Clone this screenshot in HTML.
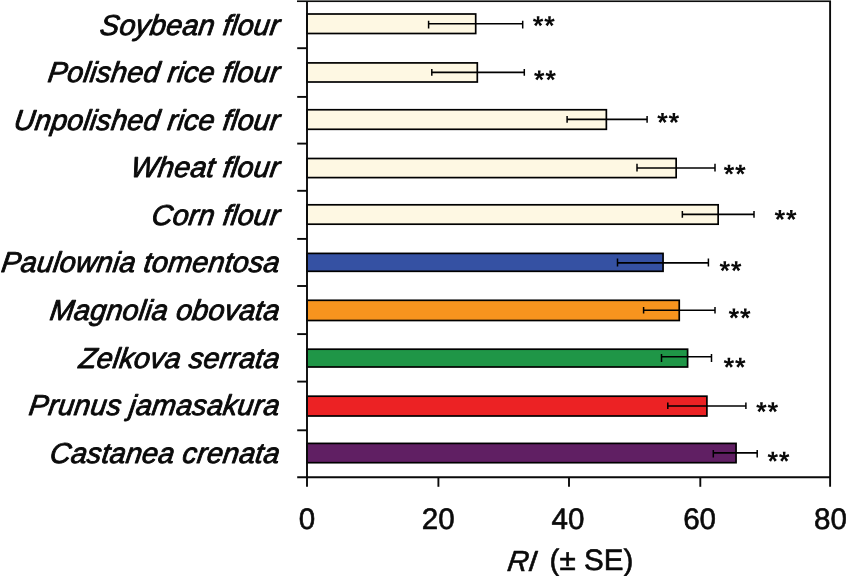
<!DOCTYPE html>
<html><head><meta charset="utf-8"><title>chart</title>
<style>
html,body{margin:0;padding:0;background:#fff;}
body{width:846px;height:576px;overflow:hidden;}
svg{display:block;will-change:transform;}
text{font-family:"Liberation Sans",sans-serif;fill:#0a0a0a;stroke:#0a0a0a;stroke-width:0.6px;stroke-linejoin:round;text-rendering:geometricPrecision;}
.lab{font-style:italic;font-size:28.8px;text-anchor:end;stroke-width:0.9px;letter-spacing:0.15px;}
.tk{font-size:29.6px;text-anchor:middle;}
.ast{font-weight:bold;font-size:28.5px;stroke:none;}
</style></head>
<body>
<svg width="846" height="576" viewBox="0 0 846 576">
<rect x="0" y="0" width="846" height="576" fill="#ffffff"/>
<rect x="307.00" y="14.00" width="168.70" height="19.50" fill="#FEF8E3" stroke="#000" stroke-width="1.7"/>
<rect x="307.00" y="62.90" width="170.30" height="19.10" fill="#FEF8E3" stroke="#000" stroke-width="1.7"/>
<rect x="307.00" y="109.75" width="299.35" height="19.55" fill="#FEF8E3" stroke="#000" stroke-width="1.7"/>
<rect x="307.00" y="158.50" width="369.15" height="19.10" fill="#FEF8E3" stroke="#000" stroke-width="1.7"/>
<rect x="307.00" y="204.80" width="411.15" height="19.40" fill="#FEF8E3" stroke="#000" stroke-width="1.7"/>
<rect x="307.00" y="253.40" width="356.05" height="17.90" fill="#3551A3" stroke="#000" stroke-width="1.7"/>
<rect x="307.00" y="300.30" width="372.25" height="20.20" fill="#F7941E" stroke="#000" stroke-width="1.7"/>
<rect x="307.00" y="349.20" width="380.60" height="17.80" fill="#1F9647" stroke="#000" stroke-width="1.7"/>
<rect x="307.00" y="396.20" width="399.90" height="19.80" fill="#EC2224" stroke="#000" stroke-width="1.7"/>
<rect x="307.00" y="443.40" width="429.05" height="19.30" fill="#601F63" stroke="#000" stroke-width="1.7"/>
<path d="M428.60 23.70H522.70" fill="none" stroke="#000" stroke-width="1.6"/><path d="M428.60 20.70V28.60M522.70 20.70V28.60" fill="none" stroke="#000" stroke-width="1.5"/>
<path d="M431.80 72.40H524.30" fill="none" stroke="#000" stroke-width="1.6"/><path d="M431.80 69.05V75.80M524.30 69.05V75.80" fill="none" stroke="#000" stroke-width="1.5"/>
<path d="M567.10 119.40H647.10" fill="none" stroke="#000" stroke-width="1.6"/><path d="M567.10 116.05V122.80M647.10 116.05V122.80" fill="none" stroke="#000" stroke-width="1.5"/>
<path d="M637.00 168.00H715.00" fill="none" stroke="#000" stroke-width="1.6"/><path d="M637.00 163.80V171.50M715.00 163.80V171.50" fill="none" stroke="#000" stroke-width="1.5"/>
<path d="M682.35 214.40H754.00" fill="none" stroke="#000" stroke-width="1.6"/><path d="M682.35 211.05V217.80M754.00 211.05V217.80" fill="none" stroke="#000" stroke-width="1.5"/>
<path d="M617.50 262.90H708.40" fill="none" stroke="#000" stroke-width="1.6"/><path d="M617.50 258.40V266.50M708.40 258.40V266.50" fill="none" stroke="#000" stroke-width="1.5"/>
<path d="M643.60 310.30H715.00" fill="none" stroke="#000" stroke-width="1.6"/><path d="M643.60 307.05V313.55M715.00 307.05V313.55" fill="none" stroke="#000" stroke-width="1.5"/>
<path d="M661.50 356.70H711.50" fill="none" stroke="#000" stroke-width="1.6"/><path d="M661.50 354.05V361.90M711.50 354.05V361.90" fill="none" stroke="#000" stroke-width="1.5"/>
<path d="M667.80 406.00H745.90" fill="none" stroke="#000" stroke-width="1.6"/><path d="M667.80 402.40V408.90M745.90 402.40V408.90" fill="none" stroke="#000" stroke-width="1.5"/>
<path d="M713.30 452.90H757.20" fill="none" stroke="#000" stroke-width="1.6"/><path d="M713.30 449.95V457.50M757.20 449.95V457.50" fill="none" stroke="#000" stroke-width="1.5"/>
<g shape-rendering="crispEdges"><rect x="297" y="0" width="534" height="1" fill="#707170"/><rect x="297" y="1" width="534" height="1" fill="#0c0c0c"/><rect x="297" y="2" width="534" height="1" fill="#eeeeee"/></g>
<path d="M830.10 1.00V486.80" fill="none" stroke="#0a0a0a" stroke-width="1.9"/>
<path d="M307.00 1.18V486.80" fill="none" stroke="#0a0a0a" stroke-width="1.9"/>
<path d="M297.20 477.30H830.10" fill="none" stroke="#0a0a0a" stroke-width="1.9"/>
<path d="M297.20 48.20H307.00" fill="none" stroke="#0a0a0a" stroke-width="1.9"/>
<path d="M297.20 96.90H307.00" fill="none" stroke="#0a0a0a" stroke-width="1.9"/>
<path d="M297.20 143.60H307.00" fill="none" stroke="#0a0a0a" stroke-width="1.9"/>
<path d="M297.20 190.80H307.00" fill="none" stroke="#0a0a0a" stroke-width="1.9"/>
<path d="M297.20 238.90H307.00" fill="none" stroke="#0a0a0a" stroke-width="1.9"/>
<path d="M297.20 286.00H307.00" fill="none" stroke="#0a0a0a" stroke-width="1.9"/>
<path d="M297.20 334.10H307.00" fill="none" stroke="#0a0a0a" stroke-width="1.9"/>
<path d="M297.20 381.60H307.00" fill="none" stroke="#0a0a0a" stroke-width="1.9"/>
<path d="M297.20 430.30H307.00" fill="none" stroke="#0a0a0a" stroke-width="1.9"/>
<path d="M438.40 477.30V486.80" fill="none" stroke="#0a0a0a" stroke-width="1.9"/>
<path d="M569.00 477.30V486.80" fill="none" stroke="#0a0a0a" stroke-width="1.9"/>
<path d="M700.30 477.30V486.80" fill="none" stroke="#0a0a0a" stroke-width="1.9"/>
<text class="tk" x="307.00" y="529.3">0</text>
<text class="tk" x="438.20" y="529.3">20</text>
<text class="tk" x="568.00" y="529.3">40</text>
<text class="tk" x="699.60" y="529.3">60</text>
<text class="tk" x="830.40" y="529.3">80</text>
<text class="lab" transform="translate(278.70 34.60) skewX(-8)">Soybean flour</text>
<text class="lab" transform="translate(278.70 82.30) skewX(-8)">Polished rice flour</text>
<text class="lab" transform="translate(278.70 130.20) skewX(-8)">Unpolished rice flour</text>
<text class="lab" transform="translate(278.70 177.30) skewX(-8)">Wheat flour</text>
<text class="lab" transform="translate(278.70 224.70) skewX(-8)">Corn flour</text>
<text class="lab" transform="translate(278.70 272.10) skewX(-8)">Paulownia tomentosa</text>
<text class="lab" transform="translate(278.70 320.00) skewX(-8)">Magnolia obovata</text>
<text class="lab" transform="translate(278.70 367.70) skewX(-8)">Zelkova serrata</text>
<text class="lab" transform="translate(278.70 415.40) skewX(-8)">Prunus jamasakura</text>
<text class="lab" transform="translate(278.70 463.40) skewX(-8)">Castanea crenata</text>
<defs><path id="st" d="M-0.950 -0.000L-1.350 -5.000L1.350 -5.000L0.950 0.000ZM-0.294 -0.904L4.338 -2.829L5.172 -0.261L0.294 0.904ZM0.769 -0.558L4.031 3.252L1.847 4.839L-0.769 0.558ZM0.769 0.558L-1.847 4.839L-4.031 3.252L-0.769 -0.558ZM-0.294 0.904L-5.172 -0.261L-4.338 -2.829L0.294 -0.904Z" fill="#0a0a0a" stroke="none"/></defs>
<use href="#st" x="538.10" y="21.30"/><use href="#st" x="549.50" y="21.30"/>
<use href="#st" x="539.25" y="75.50"/><use href="#st" x="550.65" y="75.50"/>
<use href="#st" x="662.50" y="118.10"/><use href="#st" x="673.90" y="118.10"/>
<use href="#st" x="729.00" y="169.70"/><use href="#st" x="740.40" y="169.70"/>
<use href="#st" x="779.90" y="215.10"/><use href="#st" x="791.30" y="215.10"/>
<use href="#st" x="724.80" y="266.30"/><use href="#st" x="736.20" y="266.30"/>
<use href="#st" x="733.90" y="313.60"/><use href="#st" x="745.30" y="313.60"/>
<use href="#st" x="728.90" y="362.80"/><use href="#st" x="740.30" y="362.80"/>
<use href="#st" x="761.45" y="407.30"/><use href="#st" x="772.85" y="407.30"/>
<use href="#st" x="772.80" y="456.80"/><use href="#st" x="784.20" y="456.80"/>
<text transform="translate(506.5 571.0) skewX(-8)" style="font-style:italic;font-size:29.1px">RI</text>
<text x="549.6" y="570" style="font-size:29.6px">(± SE)</text>
</svg>
</body></html>
